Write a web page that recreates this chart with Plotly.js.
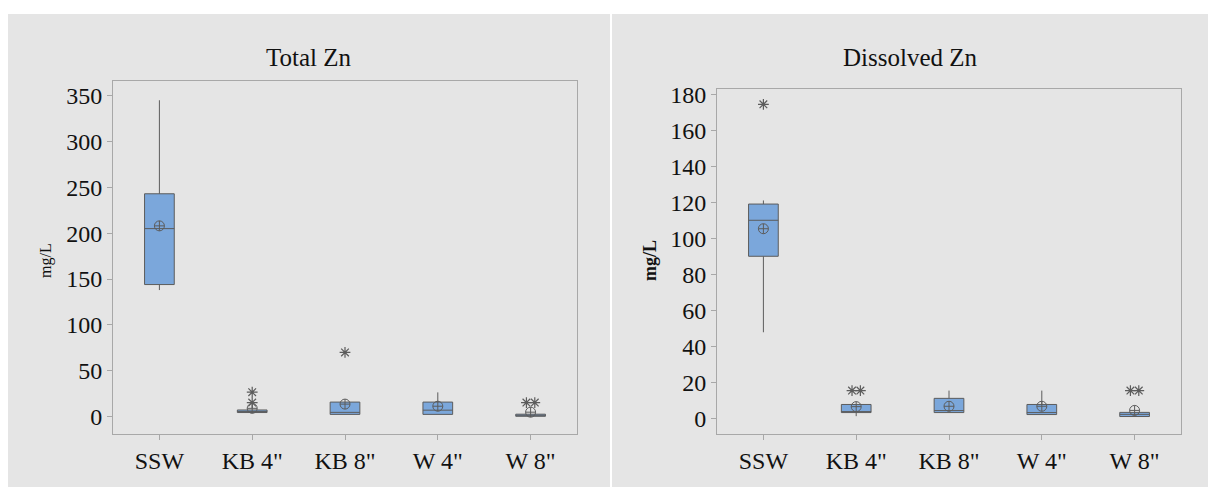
<!DOCTYPE html>
<html>
<head>
<meta charset="utf-8">
<script src="https://cdn.plot.ly/plotly-3.0.1.min.js"></script>
<style>html,body{margin:0;padding:0;background:#fff;}#chart{width:1208px;height:487px;}</style>
</head>
<body>
<div id="chart"></div>
<script>
// ---- data ----
const categories = ['SSW', 'KB 4"', 'KB 8"', 'W 4"', 'W 8"'];

// Total Zn (mg/L)
const totalQ1     = [144, 4.4, 2.4, 2.4, 0.3];
const totalMedian = [205, 5.6, 4.6, 7.0, 1.2];
const totalQ3     = [243, 7.2, 15.8, 15.8, 2.6];
const totalLower  = [138, 4.4, 2.4, 2.4, 0.3];
const totalUpper  = [345, 7.2, 15.8, 26.4, 2.6];
const totalMean   = [208, 9.0, 13.6, 11.3, 4.8];
const totalOutCat = [1, 1, 2, 4, 4];
const totalOutVal = [15.3, 26.6, 70, 15.3, 15.3];

// Dissolved Zn (mg/L)
const dissQ1     = [90, 3.2, 3.2, 2.1, 1.0];
const dissMedian = [110, 3.2, 4.3, 3.2, 2.2];
const dissQ3     = [119, 7.7, 11.1, 7.7, 3.3];
const dissLower  = [47.8, 1.2, 3.2, 2.1, 1.0];
const dissUpper  = [121, 7.7, 15.4, 15.4, 3.3];
const dissMean   = [105.3, 6.5, 6.7, 6.7, 4.4];
const dissOutCat = [0, 1, 1, 4, 4];
const dissOutVal = [174.4, 15.4, 15.4, 15.4, 15.4];

// ---- styles ----
const W = 1208, H = 487;
const serif = 'Liberation Serif';
const boxFill = '#7ba7db';
const lineCol = '#5c5c5c';
const frameCol = '#a8a8a8';
const idx = categories.map((c, i) => i);

function spreadOutliers(cats, vals) {
  // place identical outliers side by side (as the original software does)
  const groups = {};
  cats.forEach((c, i) => { const k = c + '|' + vals[i]; (groups[k] = groups[k] || []).push(i); });
  const xs = new Array(cats.length);
  Object.values(groups).forEach(g => {
    g.forEach((i, j) => { xs[i] = cats[i] + (j - (g.length - 1) / 2) * 0.09; });
  });
  return xs;
}

function traces(q1, med, q3, lo, hi, mean, oc, ov, xa, ya) {
  return [
    {type: 'box', x: idx, q1: q1, median: med, q3: q3, lowerfence: lo, upperfence: hi,
     boxpoints: false, width: 0.32, whiskerwidth: 0, fillcolor: boxFill,
     line: {color: lineCol, width: 1}, xaxis: xa, yaxis: ya, hoverinfo: 'skip'},
    {type: 'scatter', mode: 'markers', x: idx, y: mean, xaxis: xa, yaxis: ya,
     marker: {symbol: 'circle-cross-open', size: 10, color: lineCol, line: {width: 1, color: lineCol}}},
    {type: 'scatter', mode: 'markers', x: spreadOutliers(oc, ov), y: ov, xaxis: xa, yaxis: ya,
     marker: {symbol: 'asterisk-open', size: 9, color: lineCol, line: {width: 1.2, color: lineCol}}}
  ];
}

const data = [
  ...traces(totalQ1, totalMedian, totalQ3, totalLower, totalUpper, totalMean, totalOutCat, totalOutVal, 'x', 'y'),
  ...traces(dissQ1, dissMedian, dissQ3, dissLower, dissUpper, dissMean, dissOutCat, dissOutVal, 'x2', 'y2')
];

const tickFont = {family: serif, size: 24, color: '#111'};
function xax(domain) {
  return {domain: domain, range: [-0.5, 4.5], tickmode: 'array', tickvals: idx, ticktext: categories,
    showgrid: false, zeroline: false, showline: true, mirror: true, linecolor: frameCol, linewidth: 1,
    ticks: 'outside', ticklen: 5, tickcolor: frameCol, tickfont: tickFont, fixedrange: true};
}
function yax(domain, range, dtick, anchor) {
  return {domain: domain, range: range, dtick: dtick, tick0: 0, anchor: anchor,
    showgrid: false, zeroline: false, showline: true, mirror: true, linecolor: frameCol, linewidth: 1,
    ticks: 'outside', ticklen: 5, tickcolor: frameCol, tickfont: tickFont, fixedrange: true};
}

const layout = {
  width: W, height: H,
  margin: {l: 0, r: 0, t: 0, b: 0},
  font: {family: serif, color: '#111'},
  paper_bgcolor: '#ffffff', plot_bgcolor: '#ffffff',
  showlegend: false,
  xaxis: Object.assign(xax([113 / W, 577 / W]), {anchor: 'y'}),
  yaxis: yax([1 - 434 / H, 1 - 81 / H], [-19, 366], 50, 'x'),
  xaxis2: Object.assign(xax([717 / W, 1181 / W]), {anchor: 'y2'}),
  yaxis2: yax([1 - 434 / H, 1 - 89 / H], [-8.7, 182.9], 20, 'x2'),
  shapes: [
    {type: 'rect', xref: 'paper', yref: 'paper', x0: 8 / W, x1: 610 / W, y0: 0, y1: 1 - 14 / H,
     fillcolor: '#e5e5e5', line: {width: 0}, layer: 'below'},
    {type: 'rect', xref: 'paper', yref: 'paper', x0: 612 / W, x1: 1, y0: 0, y1: 1 - 14 / H,
     fillcolor: '#e5e5e5', line: {width: 0}, layer: 'below'}
  ],
  annotations: [
    {text: 'Total Zn', xref: 'paper', yref: 'paper', x: 309 / W, y: 1 - 57 / H, showarrow: false,
     font: {family: serif, size: 25, color: '#111'}, xanchor: 'center', yanchor: 'middle'},
    {text: 'Dissolved Zn', xref: 'paper', yref: 'paper', x: 910 / W, y: 1 - 57 / H, showarrow: false,
     font: {family: serif, size: 25, color: '#111'}, xanchor: 'center', yanchor: 'middle'},
    {text: 'mg/L', xref: 'paper', yref: 'paper', x: 46 / W, y: 1 - 261 / H, showarrow: false, textangle: -90,
     font: {family: serif, size: 16, color: '#111'}, xanchor: 'center', yanchor: 'middle'},
    {text: '<b>mg/L</b>', xref: 'paper', yref: 'paper', x: 650 / W, y: 1 - 261 / H, showarrow: false, textangle: -90,
     font: {family: serif, size: 18, color: '#111'}, xanchor: 'center', yanchor: 'middle'}
  ]
};

Plotly.newPlot('chart', data, layout, {displayModeBar: false, staticPlot: true});
</script>
</body>
</html>
